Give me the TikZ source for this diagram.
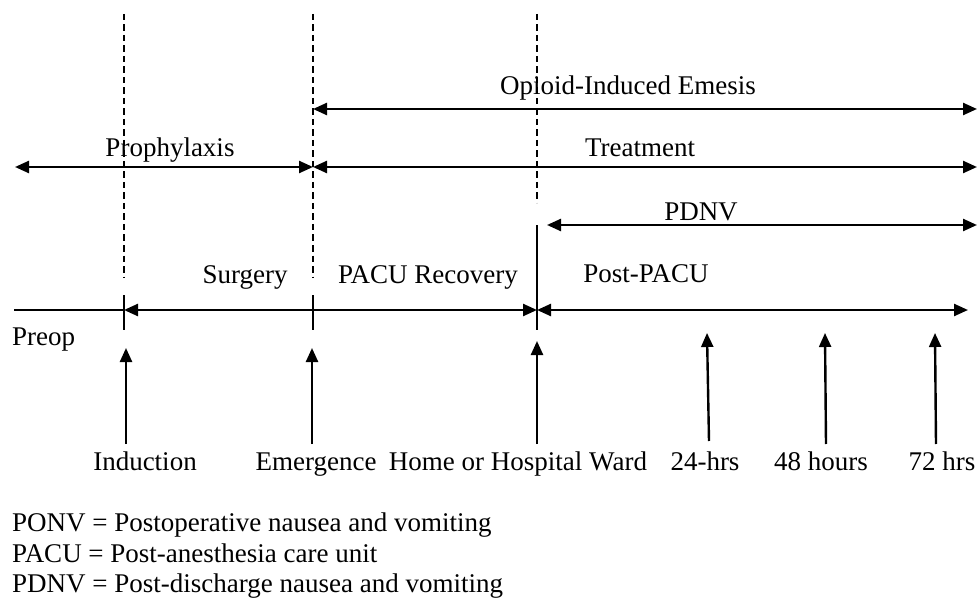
\documentclass[tikz,border=0pt]{standalone}
\usepackage{fontspec}
\setmainfont{Liberation Serif}
\usetikzlibrary{arrows.meta}
\tikzset{
  lbl/.style={inner sep=0pt, anchor=base, font=\fontsize{27}{33}\selectfont},
  lgd/.style={inner sep=0pt, anchor=base west, font=\fontsize{27}{33}\selectfont},
  headtip/.style={-{Triangle[length=14pt,width=12pt]}},
  dblhead/.style={{Triangle[length=14pt,width=12pt]}-{Triangle[length=14pt,width=12pt]}},
  arr/.style={line width=2.4pt},
  vdash/.style={line width=2pt, dash pattern=on 6.5pt off 4pt},
  tickline/.style={line width=2.2pt},
  axisline/.style={line width=1.8pt}
}
\begin{document}
\begin{tikzpicture}[x=1pt,y=-1pt]
\useasboundingbox (0,0) rectangle (978,599);
% coordinates
\coordinate (d1t) at (124,14);  \coordinate (d1b) at (124,278);
\coordinate (d2t) at (313,14);  \coordinate (d2b) at (313,278);
\coordinate (d3t) at (537,14);  \coordinate (d3b) at (537,203);
\coordinate (oL) at (313,109);  \coordinate (oR) at (977,109);
\coordinate (pL) at (15,167);   \coordinate (pR) at (313,167);
\coordinate (tR) at (977,167);
\coordinate (nL) at (547,225);  \coordinate (nR) at (977,225);
\coordinate (a0) at (14,310);   \coordinate (a1) at (124,310);
\coordinate (a2) at (537,310);  \coordinate (a3) at (968,310);
\coordinate (k1t) at (124,295); \coordinate (k1b) at (124,330);
\coordinate (k2t) at (313,295); \coordinate (k2b) at (313,330);
\coordinate (k3t) at (537,225); \coordinate (k3b) at (537,330);
\coordinate (u1b) at (126,444); \coordinate (u1t) at (126,348);
\coordinate (u2b) at (312,444); \coordinate (u2t) at (312,348);
\coordinate (u3b) at (537,444); \coordinate (u3t) at (537,341);
\coordinate (u4b) at (709,441); \coordinate (u4t) at (707,333);
\coordinate (u5b) at (826,444); \coordinate (u5t) at (825,333);
\coordinate (u6b) at (936,444); \coordinate (u6t) at (935,333);
% dashed guides
\draw[vdash] (d1t) -- (d1b);
\draw[vdash] (d2t) -- (d2b);
\draw[vdash] (d3t) -- (d3b);
% top spans
\draw[arr,dblhead] (oL) -- (oR);
\draw[arr,dblhead] (pL) -- (pR);
\draw[arr,dblhead] (pR) -- (tR);
\draw[arr,dblhead] (nL) -- (nR);
% axis
\draw[axisline] (a0) -- (a1);
\draw[arr,dblhead] (a1) -- (a2);
\draw[arr,dblhead] (a2) -- (a3);
\draw[tickline] (k1t) -- (k1b);
\draw[tickline] (k2t) -- (k2b);
\draw[tickline] (k3t) -- (k3b);
% event arrows
\draw[arr,headtip] (u1b) -- (u1t);
\draw[arr,headtip] (u2b) -- (u2t);
\draw[arr,headtip] (u3b) -- (u3t);
\draw[arr,headtip] (u4b) -- (u4t);
\draw[arr,headtip] (u5b) -- (u5t);
\draw[arr,headtip] (u6b) -- (u6t);
% labels
\node[lbl] (opioid) at (628,95) {Opioid-Induced Emesis};
\node[lbl] (proph) at (170,157) {Prophylaxis};
\node[lbl] (treat) at (640,157) {Treatment};
\node[lbl] (pdnv) at (701,220) {PDNV};
\node[lbl] (surg) at (245,283) {Surgery};
\node[lbl] (pacu) at (428,283) {PACU Recovery};
\node[lbl] (post) at (646,282) {Post-PACU};
\node[lgd] (preop) at (12,345) {Preop};
\node[lbl] (ind) at (145,470) {Induction};
\node[lbl] (emer) at (316,470) {Emergence};
\node[lbl] (home) at (518,470) {Home or Hospital Ward};
\node[lbl] (h24) at (705,470) {24-hrs};
\node[lbl] (h48) at (821,470) {48 hours};
\node[lbl] (h72) at (942,470) {72 hrs};
% legend
\node[lgd] (l1) at (12,531) {PONV = Postoperative nausea and vomiting};
\node[lgd] (l2) at (12,562) {PACU = Post-anesthesia care unit};
\node[lgd] (l3) at (12,592) {PDNV = Post-discharge nausea and vomiting};
\end{tikzpicture}
\end{document}
